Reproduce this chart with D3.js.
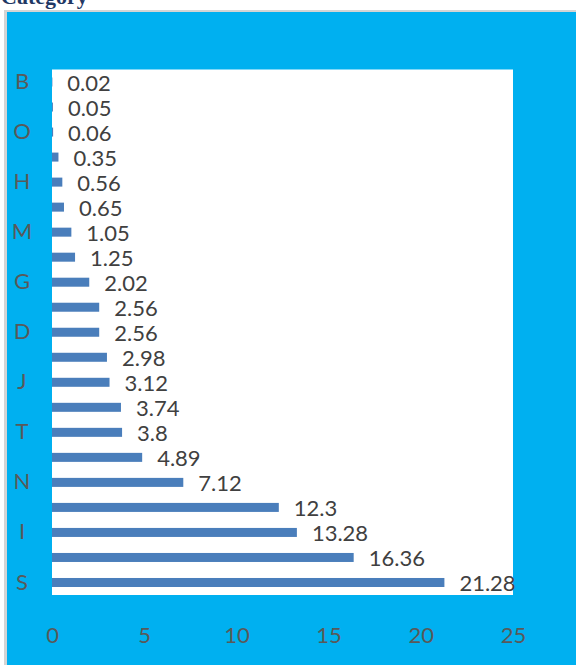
<!DOCTYPE html>
<html>
<head>
<meta charset="utf-8">
<script src="https://cdn.jsdelivr.net/npm/d3@7"></script>
<style>
  html, body { margin: 0; padding: 0; background: #ffffff; }
  svg { display: block; }
</style>
</head>
<body>
<svg id="chart" width="576" height="665"></svg>
<script>
// Category shares, top to bottom
const categories = ["B", "A", "O", "C", "H", "E", "M", "F", "G", "K", "D",
                    "L", "J", "P", "T", "Q", "N", "R", "I", "U", "S"];
const values = [0.02, 0.05, 0.06, 0.35, 0.56, 0.65, 1.05, 1.25, 2.02, 2.56, 2.56,
                2.98, 3.12, 3.74, 3.8, 4.89, 7.12, 12.3, 13.28, 16.36, 21.28];
const shownCategories = ["B", "O", "H", "M", "G", "D", "J", "T", "N", "I", "S"];
const xTicks = [0, 5, 10, 15, 20, 25];
const title = "Category";

const svg = d3.select("#chart");
const W = 576, H = 665;

// Chart title, partly above the top edge
svg.append("text")
  .attr("x", 1)
  .attr("y", 4)
  .attr("font-family", "'Liberation Serif', 'DejaVu Serif', serif")
  .attr("font-weight", "bold")
  .attr("font-size", 22)
  .attr("fill", "#1f3864")
  .text(title);

// Chart frame: light grey rim around a blue panel
svg.append("rect")
  .attr("x", 4).attr("y", 10)
  .attr("width", W - 4).attr("height", H - 10)
  .attr("fill", "#d4d4d4");
svg.append("rect")
  .attr("x", 7).attr("y", 12)
  .attr("width", W - 7).attr("height", H - 12)
  .attr("fill", "#00b0f0");

const plot = { left: 52, right: 513, top: 69.5, bottom: 595 };

// White plot area
svg.append("rect")
  .attr("x", plot.left).attr("y", plot.top)
  .attr("width", plot.right - plot.left)
  .attr("height", plot.bottom - plot.top)
  .attr("fill", "#ffffff");

const x = d3.scaleLinear().domain([0, 25]).range([plot.left, plot.right]);
const y = d3.scaleBand().domain(categories).range([plot.top, plot.bottom]).paddingInner(0.64).paddingOuter(0.32);

const labelFont = "Lato, 'Open Sans', 'Noto Sans', sans-serif";

// Bars
svg.append("g").selectAll("rect")
  .data(categories)
  .join("rect")
  .attr("x", x(0))
  .attr("y", d => y(d))
  .attr("width", (d, i) => x(values[i]) - x(0))
  .attr("height", y.bandwidth())
  .attr("fill", "#4a7ebb");

// Value labels
svg.append("g").selectAll("text")
  .data(categories)
  .join("text")
  .attr("x", (d, i) => x(values[i]) + 15)
  .attr("y", d => y(d) + y.bandwidth() / 2 + 1)
  .attr("dy", "0.35em")
  .attr("font-family", labelFont)
  .attr("font-size", 22)
  .attr("fill", "#404040")
  .text((d, i) => values[i]);

// Category axis (every other label shown)
const yAxis = d3.axisLeft(y)
  .tickValues(shownCategories)
  .tickSize(0)
  .tickPadding(0);
const gy = svg.append("g")
  .attr("transform", `translate(${plot.left - 30},0)`)
  .call(yAxis);
gy.select(".domain").remove();
gy.selectAll("text")
  .attr("text-anchor", "middle")
  .attr("font-family", labelFont)
  .attr("font-size", 22)
  .attr("fill", "#595959");

// Value axis
const xAxis = d3.axisBottom(x)
  .tickValues(xTicks)
  .tickSize(0)
  .tickPadding(0)
  .tickFormat(d3.format("d"));
const gx = svg.append("g")
  .attr("transform", `translate(0,627)`)
  .call(xAxis);
gx.select(".domain").remove();
gx.selectAll("text")
  .attr("font-family", labelFont)
  .attr("font-size", 22)
  .attr("fill", "#595959");
</script>
</body>
</html>
